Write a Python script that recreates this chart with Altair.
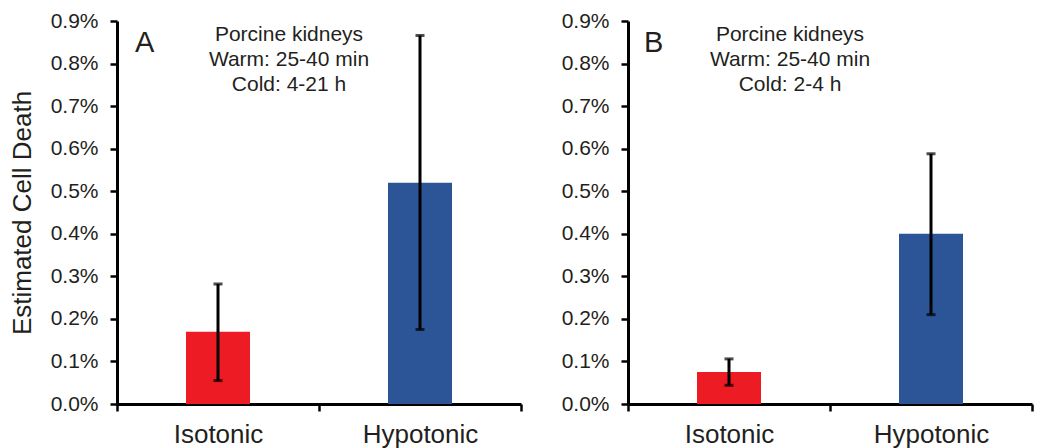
import altair as alt
import pandas as pd

categories = ["Isotonic", "Hypotonic"]
panels = ["A", "B"]
means_a = [0.0017, 0.0052]
low_a = [0.00055, 0.00175]
high_a = [0.00282, 0.00866]
means_b = [0.00075, 0.0040]
low_b = [0.00044, 0.0021]
high_b = [0.00106, 0.00588]
bar_colors = ["#ED1C24", "#2B5597"]
y_ticks = [0.0, 0.001, 0.002, 0.003, 0.004, 0.005, 0.006, 0.007, 0.008, 0.009]
notes_a = "Porcine kidneys\nWarm: 25-40 min\nCold: 4-21 h"
notes_b = "Porcine kidneys\nWarm: 25-40 min\nCold: 2-4 h"

FONT = "Liberation Sans"
TXT = "#231f20"


def panel(letter, means, lows, highs, note, show_title, note_x, letter_x):
    df = pd.DataFrame({"cat": categories, "mean": means, "low": lows, "high": highs})
    x = alt.X(
        "cat:N",
        sort=categories,
        scale=alt.Scale(paddingInner=0, paddingOuter=0),
        axis=alt.Axis(
            title=None, labelAngle=0, labelFontSize=26, labelFont=FONT, labelColor=TXT,
            labelPadding=10, domainColor="black", domainWidth=3, tickColor="black",
            tickWidth=2.5, tickSize=7, tickBand="extent",
        ),
    )
    yaxis = alt.Axis(
        values=y_ticks, format=".1%", labelFontSize=21, labelFont=FONT, labelColor=TXT,
        labelPadding=12, domainColor="black", domainWidth=3, tickColor="black",
        tickWidth=2.5, tickSize=7, grid=False,
        title="Estimated Cell Death" if show_title else None,
        titleFontSize=26, titleFont=FONT, titleColor=TXT, titleFontWeight="normal",
        titlePadding=15,
    )
    y = alt.Y("mean:Q", scale=alt.Scale(domain=[0, 0.009], nice=False), axis=yaxis)
    base = alt.Chart(df)
    bars = base.mark_bar(size=64).encode(
        x=x, y=y,
        color=alt.Color("cat:N", scale=alt.Scale(domain=categories, range=bar_colors), legend=None),
    )
    rule = base.mark_rule(color="black", strokeWidth=3).encode(
        x=alt.X("cat:N", sort=categories), y="low:Q", y2="high:Q"
    )
    cap_lo = base.mark_tick(color="black", size=9, thickness=3).encode(
        x=alt.X("cat:N", sort=categories), y="low:Q"
    )
    cap_hi = base.mark_tick(color="black", size=9, thickness=3).encode(
        x=alt.X("cat:N", sort=categories), y="high:Q"
    )
    note_text = alt.Chart(pd.DataFrame({"t": [note]})).mark_text(
        font=FONT, fontSize=21, color=TXT, align="center", baseline="alphabetic",
        lineBreak="\n", lineHeight=25.3,
    ).encode(x=alt.value(note_x), y=alt.value(19.5), text="t:N")
    letter_text = alt.Chart(pd.DataFrame({"t": [letter]})).mark_text(
        font=FONT, fontSize=29, color=TXT, align="left", baseline="alphabetic",
    ).encode(x=alt.value(letter_x), y=alt.value(31), text="t:N")
    return alt.layer(bars, rule, cap_lo, cap_hi, note_text, letter_text).properties(
        width=404, height=383
    )


chart = alt.hconcat(
    panel(panels[0], means_a, low_a, high_a, notes_a, True, 172, 18),
    panel(panels[1], means_b, low_b, high_b, notes_b, False, 162, 16),
    spacing=38,
).configure_view(stroke=None).properties(
    padding={"left": 9, "top": 10, "right": 5, "bottom": 5}
)

chart.save("out.html", embed_options={"renderer": "svg", "actions": False})
